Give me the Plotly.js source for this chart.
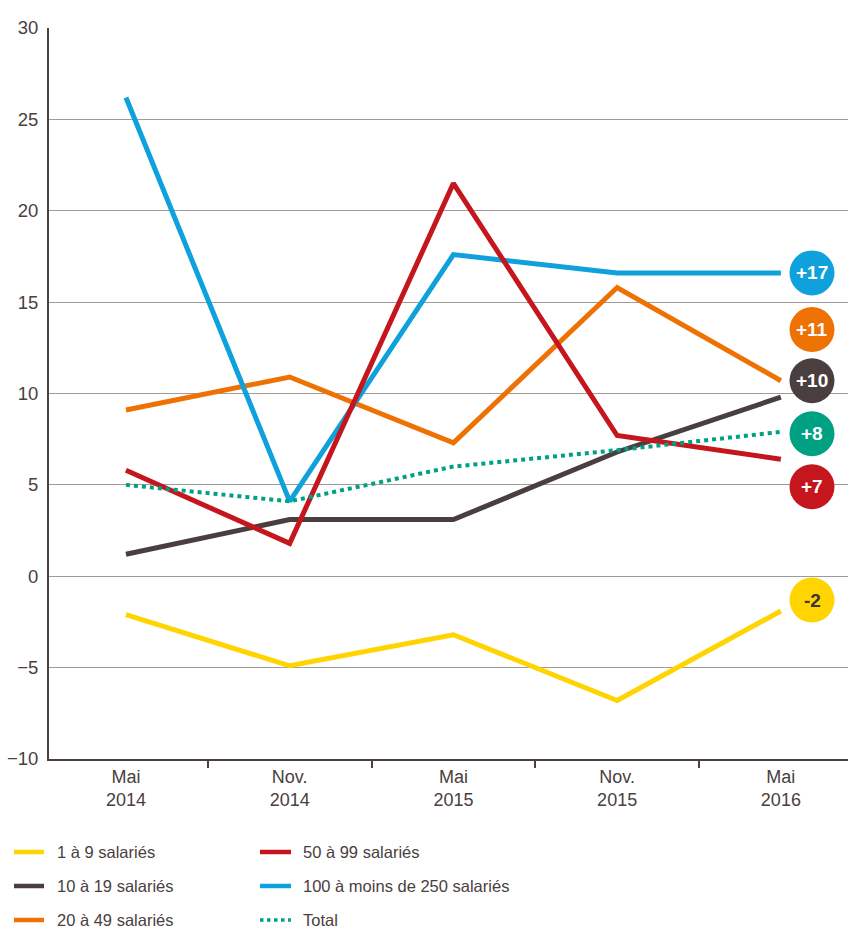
<!DOCTYPE html>
<html>
<head>
<meta charset="utf-8">
<script src="https://cdn.plot.ly/plotly-3.0.1.min.js"></script>
<style>html,body{margin:0;padding:0;background:#fff;}#chart{width:848px;height:931px;}</style>
</head>
<body>
<div id="chart"></div>
<script>
// ---- data ----
const periods = ["Mai<br>2014", "Nov.<br>2014", "Mai<br>2015", "Nov.<br>2015", "Mai<br>2016"];
const seriesNames = ["1 à 9 salariés", "10 à 19 salariés", "20 à 49 salariés", "50 à 99 salariés", "100 à moins de 250 salariés", "Total"];
const s1a9 = [-2.1, -4.9, -3.2, -6.8, -1.9];
const s10a19 = [1.2, 3.1, 3.1, 6.8, 9.8];
const s20a49 = [9.1, 10.9, 7.3, 15.8, 10.7];
const s50a99 = [5.8, 1.8, 21.5, 7.7, 6.4];
const s100a250 = [26.2, 4.1, 17.6, 16.6, 16.6];
const sTotal = [5.0, 4.1, 6.0, 6.9, 7.9];
const badgeLabels = ["+17", "+11", "+10", "+8", "+7", "-2"];

// ---- styles ----
const colors = ["#ffd400", "#4a3f3e", "#ee7203", "#c4161c", "#0ea1dc", "#00a082"];
const values = [s1a9, s10a19, s20a49, s50a99, s100a250, sTotal];
const textColor = "#4a4040";
const font = "Liberation Sans, Arial, sans-serif";

const traces = values.map((v, i) => ({
  type: "scatter", mode: "lines", x: periods, y: v, name: seriesNames[i],
  line: {color: colors[i], width: i === 5 ? 4 : 5, dash: i === 5 ? "dot" : "solid"},
  hoverinfo: "x+y+name", showlegend: false
}));
// draw order: keep Total on top
const order = [0, 1, 2, 4, 3, 5];
const data = order.map(i => traces[i]);

// badge layout (order: blue, orange, dark, green, red, yellow)
const badgeColorIdx = [4, 2, 1, 5, 3, 0];
const badgeY = [16.6, 13.5, 10.7, 7.8, 4.9, -1.3];
const badgeX = (812 - 49) / 799;
const shapes = [];
const annotations = [];
badgeLabels.forEach((t, k) => {
  shapes.push({type: "circle", xref: "paper", yref: "y", xsizemode: "pixel", ysizemode: "pixel",
    xanchor: badgeX, yanchor: badgeY[k], x0: -22.5, x1: 22.5, y0: -22.5, y1: 22.5,
    fillcolor: colors[badgeColorIdx[k]], line: {width: 0}});
  annotations.push({xref: "paper", yref: "y", x: badgeX, y: badgeY[k], text: "<b>" + t + "</b>",
    showarrow: false, xanchor: "center", yanchor: "middle",
    font: {family: font, size: 19, color: badgeColorIdx[k] === 0 ? "#3d3535" : "#ffffff"}});
});

// manual legend: two columns, three rows
const legendPos = [[0, 0], [0, 1], [0, 2], [1, 0], [1, 1], [1, 2]];
const rowPx = [852, 886, 920];
const colLine = [[14, 44], [260, 291]];
const colText = [55, 301];
const px2x = p => (p - 49) / 799;
const px2y = p => (759 - p) / 731;
seriesNames.forEach((n, i) => {
  const [c, r] = legendPos[i];
  shapes.push({type: "line", xref: "paper", yref: "paper",
    x0: px2x(colLine[c][0]), x1: px2x(colLine[c][1]), y0: px2y(rowPx[r]), y1: px2y(rowPx[r]),
    line: {color: colors[i], width: i === 5 ? 3.5 : 4.5, dash: i === 5 ? "dot" : "solid"}});
  annotations.push({xref: "paper", yref: "paper", x: px2x(colText[c]), y: px2y(rowPx[r]),
    text: n, showarrow: false, xanchor: "left", yanchor: "middle",
    font: {family: font, size: 16.5, color: textColor}});
});

const layout = {
  width: 848, height: 931,
  margin: {l: 49, r: 0, t: 28, b: 172},
  paper_bgcolor: "#ffffff", plot_bgcolor: "#ffffff",
  font: {family: font, size: 16, color: textColor},
  showlegend: false,
  xaxis: {type: "category", range: [-0.47, 4.41], showgrid: false, zeroline: false,
    showline: true, linecolor: textColor, linewidth: 2,
    ticks: "outside", tickson: "boundaries", ticklen: 7, tickwidth: 2, tickcolor: textColor,
    tickfont: {family: font, size: 18, color: textColor}},
  yaxis: {range: [-10, 30], dtick: 5, tick0: 0, showgrid: true, gridcolor: "#a39a9a", gridwidth: 1,
    zeroline: false, showline: true, linecolor: textColor, linewidth: 2, ticks: "",
    ticklabelstandoff: 5,
    tickfont: {family: font, size: 18.5, color: textColor}},
  shapes: shapes, annotations: annotations
};

Plotly.newPlot("chart", data, layout, {displayModeBar: false, staticPlot: true});
</script>
</body>
</html>
